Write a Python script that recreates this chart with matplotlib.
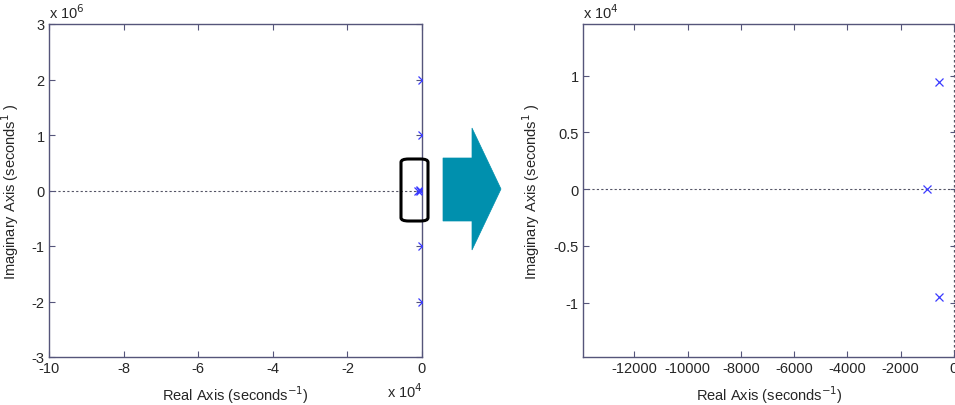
import matplotlib
matplotlib.use("Agg")
import matplotlib.pyplot as plt
from matplotlib.patches import FancyBboxPatch, Polygon
import numpy as np

plt.rcParams['font.family'] = ['Liberation Sans', 'DejaVu Sans']

# Poles (real, imag) in seconds^-1
pole_re = [-50, -50, -50, -50, -1000, -550, -550]
pole_im = [2.0e6, 1.0e6, -1.0e6, -2.0e6, 0.0, 9470.0, -9470.0]

left_xticks = [-100000, -80000, -60000, -40000, -20000, 0]
left_xlabels = ["-10", "-8", "-6", "-4", "-2", "0"]
left_yticks = [-3e6, -2e6, -1e6, 0, 1e6, 2e6, 3e6]
left_ylabels = ["-3", "-2", "-1", "0", "1", "2", "3"]

right_xticks = [-12000, -10000, -8000, -6000, -4000, -2000, 0]
right_xlabels = ["-12000", "-10000", "-8000", "-6000", "-4000", "-2000", "0"]
right_yticks = [-1e4, -0.5e4, 0, 0.5e4, 1e4]
right_ylabels = ["-1", "-0.5", "0", "0.5", "1"]

spine_c = "#55557a"
text_c = "#262626"
mark_c = "#3a3aff"
fs = 10.5

fig = plt.figure(figsize=(9.55, 4.06), dpi=100)
ax1 = fig.add_axes([49/955, 48/406, 373/955, 333/406])
ax2 = fig.add_axes([583/955, 48/406, 373/955, 333/406])

def style(ax):
    for s in ax.spines.values():
        s.set_color(spine_c)
        s.set_linewidth(1.0)
    ax.tick_params(direction='in', length=4, width=0.8, color=spine_c,
                   top=True, right=True, labelsize=fs, labelcolor=text_c, pad=3)

# Left plot
ax1.plot(pole_re, pole_im, linestyle='none', marker='x', markersize=6,
         color=mark_c, markeredgewidth=0.9, zorder=3)
ax1.axhline(0, color="#555566", linestyle=(0, (2, 2)), linewidth=0.8, zorder=1)
ax1.set_xlim(-100000, 0)
ax1.set_ylim(-3e6, 3e6)
ax1.set_xticks(left_xticks)
ax1.set_xticklabels(left_xlabels)
ax1.set_yticks(left_yticks)
ax1.set_yticklabels(left_ylabels)
style(ax1)
ax1.set_xlabel("Real Axis (seconds$^{-1}$)", fontsize=fs, color=text_c, labelpad=6)
ax1.set_ylabel("Imaginary Axis (seconds$^{1}$ )", fontsize=fs, color=text_c, labelpad=8)
ax1.text(0.0, 1.01, "x 10$^{6}$", transform=ax1.transAxes, fontsize=fs,
         color=text_c, ha='left', va='bottom')

# Right plot
ax2.plot(pole_re, pole_im, linestyle='none', marker='x', markersize=6,
         color=mark_c, markeredgewidth=0.9, zorder=3)
ax2.axhline(0, color="#555566", linestyle=(0, (2, 2)), linewidth=0.8, zorder=1)
ax2.axvline(0, color="#555566", linestyle=(0, (2, 2)), linewidth=0.9, zorder=1)
ax2.set_xlim(-13930, 80)
ax2.set_ylim(-14800, 14550)
ax2.set_xticks(right_xticks)
ax2.set_xticklabels(right_xlabels)
ax2.set_yticks(right_yticks)
ax2.set_yticklabels(right_ylabels)
style(ax2)
ax2.spines['right'].set_visible(False)
ax2.set_xlabel("Real Axis (seconds$^{-1}$)", fontsize=fs, color=text_c, labelpad=6)
ax2.set_ylabel("Imaginary Axis (seconds$^{1}$ )", fontsize=fs, color=text_c, labelpad=8)
ax2.text(0.0, 1.01, "x 10$^{4}$", transform=ax2.transAxes, fontsize=fs,
         color=text_c, ha='left', va='bottom')

# Annotation: rounded box and arrow (figure pixel coordinates)
def fx(px):
    return px / 955
def fy(py):
    return 1 - py / 406

fig.text(fx(405), fy(392), "x 10$^{4}$", fontsize=fs, color=text_c,
         ha='center', va='center')

box = FancyBboxPatch((fx(401), fy(222)), fx(428) - fx(401), fy(160) - fy(222),
                     boxstyle="round,pad=0,rounding_size=0.008",
                     transform=fig.transFigure, fill=False, edgecolor='black',
                     linewidth=2.2, zorder=10)
fig.patches.append(box)

arrow_pts = [(443, 159), (472, 159), (472, 129), (501, 190), (472, 251),
             (472, 222), (443, 222)]
arrow = Polygon([(fx(x), fy(y)) for x, y in arrow_pts], closed=True,
                transform=fig.transFigure, facecolor="#0090ae",
                edgecolor="#0090ae", linewidth=0.5, zorder=10)
fig.patches.append(arrow)

fig.savefig("out.png", dpi=100)
